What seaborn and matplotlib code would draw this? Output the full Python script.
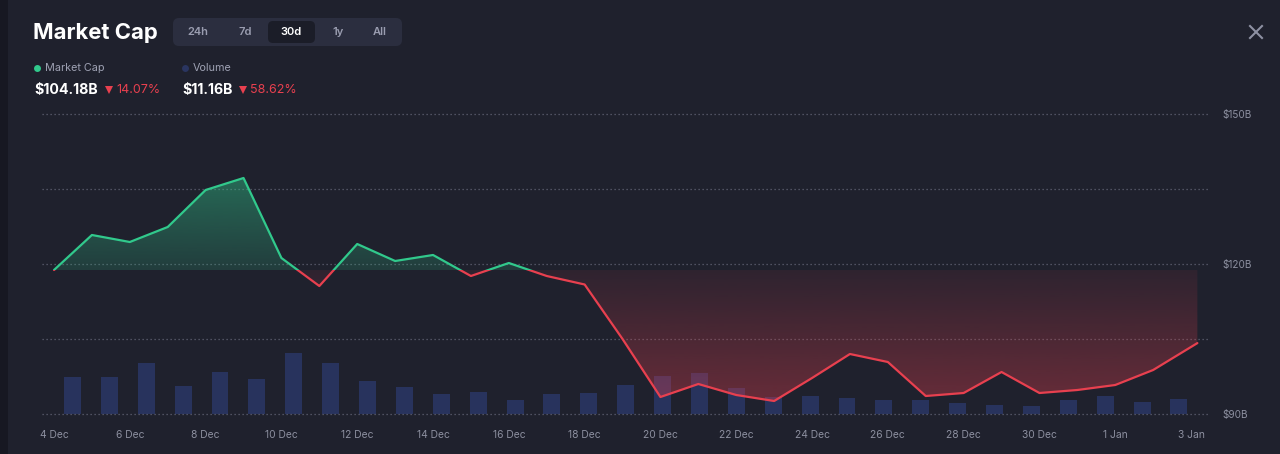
import numpy as np
import pandas as pd
import matplotlib
matplotlib.use("Agg")
import matplotlib.pyplot as plt
import seaborn as sns
from matplotlib.path import Path
from matplotlib.patches import Rectangle, FancyBboxPatch
from matplotlib.colors import LinearSegmentedColormap, to_rgb
from matplotlib.lines import Line2D

plt.rcParams["font.family"] = ["Inter", "DejaVu Sans"]

# ---------------- data ----------------
dates = list(pd.date_range("2023-12-04", periods=30, freq="D")) + [pd.Timestamp("2024-01-03 04:00")]
market_cap = [118.8, 125.8, 124.4, 127.4, 134.8, 137.2, 121.2, 115.6, 124.0, 120.6,
              121.8, 117.6, 120.2, 117.6, 115.9, 105.0, 93.4, 96.0, 93.8, 92.6,
              97.2, 102.0, 100.4, 93.6, 94.2, 98.4, 94.2, 94.8, 95.8, 98.8, 104.18]
volume = [27.5, 27.5, 38.0, 20.8, 31.2, 26.0, 45.4, 38.0, 24.6, 20.1,
          14.9, 16.4, 10.4, 14.9, 15.6, 21.6, 28.3, 30.5, 19.3, 12.6,
          13.4, 11.9, 10.4, 10.4, 8.2, 6.7, 6.0, 10.4, 13.4, 8.9, 11.16]
tick_dates = pd.date_range("2023-12-04", "2024-01-03", freq="2D")
tick_labels = ["4 Dec", "6 Dec", "8 Dec", "10 Dec", "12 Dec", "14 Dec", "16 Dec", "18 Dec",
               "20 Dec", "22 Dec", "24 Dec", "26 Dec", "28 Dec", "30 Dec", "1 Jan", "3 Jan"]
y_ticks = [90, 120, 150]
y_tick_labels = ["$90B", "$120B", "$150B"]
y_minor = [105, 135]
range_buttons = ["24h", "7d", "30d", "1y", "All"]
selected_range = "30d"
title = "Market Cap"
legend_items = ["Market Cap", "Volume"]
legend_values = ["$104.18B", "$11.16B"]
legend_changes = ["14.07%", "58.62%"]

# ---------------- style ----------------
BG = "#1f212d"
GREEN = "#31c98c"
RED = "#e8404f"
BAR = "#28335d"
GRID = "#5f6273"
TXT = "#8d90a0"

fig = plt.figure(figsize=(12.8, 4.54), dpi=100, facecolor=BG)
W, H = 1280, 454
rect = [42 / W, (H - 424) / H, 1168 / W, 320 / H]

t0 = dates[0]
day = pd.Timedelta("1D")
x = np.array([(d - t0) / day for d in dates])
mc = np.array(market_cap)
base = mc[0]
xlim = (-0.317, 30.5)
ylim = (88, 152)

# ---- volume bars (band scale over the line's domain) ----
axb = fig.add_axes(rect, zorder=1)
axb.set_facecolor(BG)
n = len(volume)
band = (x[-1] - x[0]) / n
bar_x = x[0] + (np.arange(n) + 0.5) * band
sns.barplot(x=bar_x, y=volume, native_scale=True, orient="x", width=0.46,
            color=BAR, saturation=1, errorbar=None, ax=axb)
axb.set_xlim(*xlim)
axb.set_ylim(-7.44, 231.4)
axb.axis("off")

# ---- market cap ----
ax = fig.add_axes(rect, zorder=2)
ax.patch.set_visible(False)

above = mc >= base
pg = ax.fill_between(x, mc, base, where=above, interpolate=True, facecolor="none", edgecolor="none")
pr = ax.fill_between(x, mc, base, where=~above, interpolate=True, facecolor="none", edgecolor="none")

grad = np.linspace(0, 1, 256).reshape(-1, 1)
g = to_rgb(GREEN)
r = to_rgb(RED)
cmap_g = LinearSegmentedColormap.from_list("g", [(*g, 0.17), (*g, 0.43)])
cmap_r = LinearSegmentedColormap.from_list("r", [(*r, 0.36), (*r, 0.08)])
img_g = ax.imshow(grad, extent=[x[0], x[-1], base, mc.max()], origin="lower",
                  aspect="auto", cmap=cmap_g, interpolation="bicubic", zorder=1)
img_g.set_clip_path(Path.make_compound_path(*pg.get_paths()), ax.transData)
img_r = ax.imshow(grad, extent=[x[0], x[-1], mc.min(), base], origin="lower",
                  aspect="auto", cmap=cmap_r, interpolation="bicubic", zorder=1)
img_r.set_clip_path(Path.make_compound_path(*pr.get_paths()), ax.transData)

sns.lineplot(x=x, y=mc, ax=ax, color=GREEN, linewidth=1.6, sort=False, estimator=None)
line_g = ax.lines[-1]
sns.lineplot(x=x, y=mc, ax=ax, color=RED, linewidth=1.6, sort=False, estimator=None)
line_r = ax.lines[-1]
for ln in (line_g, line_r):
    ln.set_solid_joinstyle("round")
    ln.set_solid_capstyle("round")
    ln.set_zorder(3)
clip_up = Rectangle((xlim[0], base), xlim[1] - xlim[0], 100, transform=ax.transData)
clip_dn = Rectangle((xlim[0], base - 100), xlim[1] - xlim[0], 100, transform=ax.transData)
line_g.set_clip_path(clip_up)
line_r.set_clip_path(clip_dn)

ax.set_xlim(*xlim)
ax.set_ylim(*ylim)
for s in ax.spines.values():
    s.set_visible(False)
ax.set_axisbelow(True)
ax.yaxis.tick_right()
ax.set_yticks(y_ticks)
ax.set_yticklabels(y_tick_labels)
ax.set_yticks(y_minor, minor=True)
ax.grid(axis="y", which="both", color=GRID, linestyle=(0, (1, 2.2)), linewidth=0.9)
ax.grid(axis="x", visible=False)
ax.set_xticks([(d - t0) / day for d in tick_dates])
ax.set_xticklabels(tick_labels)
ax.tick_params(axis="y", which="both", length=0, pad=8.6, labelcolor=TXT, labelsize=7.2)
ax.tick_params(axis="x", length=0, pad=4.5, labelcolor=TXT, labelsize=7.4)
ax.set_xlabel("")
ax.set_ylabel("")

# ---------------- header / UI ----------------
ui = fig.add_axes([0, 0, 1, 1], zorder=5)
ui.set_xlim(0, W)
ui.set_ylim(H, 0)
ui.axis("off")
ui.patch.set_visible(False)

ui.add_patch(Rectangle((0, 0), 8, H, facecolor="#171822", edgecolor="none"))
ui.text(33, 33, title, fontsize=15.9, fontweight="bold", color="white", va="center", ha="left")

ui.add_patch(FancyBboxPatch((173, 18), 229, 28, boxstyle="round,pad=0,rounding_size=6",
                            facecolor="#2b2e3f", edgecolor="none"))
btn_centers = [198, 245, 291, 338, 380]
for lab, cx in zip(range_buttons, btn_centers):
    sel = lab == selected_range
    if sel:
        ui.add_patch(FancyBboxPatch((cx - 23, 21), 47, 22, boxstyle="round,pad=0,rounding_size=5",
                                    facecolor="#1b1d28", edgecolor="none"))
    ui.text(cx, 32, lab, fontsize=8, fontweight="semibold", color="white" if sel else "#9a9db0",
            ha="center", va="center")

leg_x = [37, 185]
leg_colors = [GREEN, "#2a3560"]
tri_offset = [75, 61]
for lx, lab, col, val, chg, to in zip(leg_x, legend_items, leg_colors, legend_values, legend_changes, tri_offset):
    ui.plot([lx], [68], marker="o", markersize=5, color=col, markeredgewidth=0)
    ui.text(lx + 8, 68, lab, fontsize=7.8, color="#9ea1b3", va="center", ha="left")
    ui.text(lx - 3, 90, val, fontsize=10.2, fontweight="bold", color="white", va="center", ha="left")
    ui.plot([lx - 3 + to], [90], marker="v", markersize=5.5, color=RED, markeredgewidth=0)
    ui.text(lx - 3 + to + 7, 90, chg, fontsize=9, color=RED, va="center", ha="left")

ui.add_line(Line2D([1250, 1262], [26, 38], color="#8e91a3", linewidth=1.5))
ui.add_line(Line2D([1250, 1262], [38, 26], color="#8e91a3", linewidth=1.5))

fig.savefig("out.png", dpi=100, facecolor=BG)
